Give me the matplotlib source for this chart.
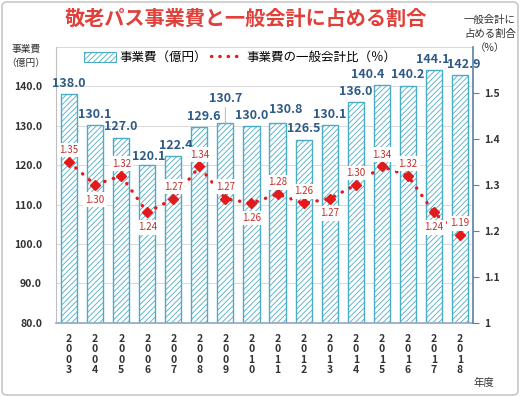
import matplotlib
matplotlib.use("Agg")
import matplotlib.pyplot as plt
from matplotlib.patches import Patch, FancyBboxPatch
from matplotlib.lines import Line2D

plt.rcParams['font.family'] = ['Noto Sans CJK JP', 'DejaVu Sans']
plt.rcParams['hatch.color'] = '#4BACC6'
plt.rcParams['hatch.linewidth'] = 0.6

years = ['2003', '2004', '2005', '2006', '2007', '2008', '2009', '2010',
         '2011', '2012', '2013', '2014', '2015', '2016', '2017', '2018']
cost = [138.0, 130.1, 127.0, 120.1, 122.4, 129.6, 130.7, 130.0,
        130.8, 126.5, 130.1, 136.0, 140.4, 140.2, 144.1, 142.9]
ratio = [1.35, 1.30, 1.32, 1.24, 1.27, 1.34, 1.27, 1.26,
         1.28, 1.26, 1.27, 1.30, 1.34, 1.32, 1.24, 1.19]
ratio_pos = ['a', 'b', 'a', 'b', 'a', 'a', 'a', 'b',
             'a', 'a', 'b', 'a', 'a', 'a', 'b', 'a']
left_ticks = [80.0, 90.0, 100.0, 110.0, 120.0, 130.0, 140.0]
right_ticks = [1.0, 1.1, 1.2, 1.3, 1.4, 1.5]
right_tick_labels = ['1', '1.1', '1.2', '1.3', '1.4', '1.5']

# label nudges (points) as placed in the reference
bar_label_dy = [0, 0, 0, -2, 0, 0, 10, 0, 2, 0, 0, 0, 0, 0, 0, 0]
bar_label_dx = [0, 0, 0, 1, 2, 3, 0, 0, 6, 0, 0, 0, -10, 0, -1, 3]

fig = plt.figure(figsize=(5.2, 3.97), dpi=100)
fig.patches.append(FancyBboxPatch((0.004, 0.005), 0.992, 0.99,
                                  boxstyle='round,pad=0,rounding_size=0.01',
                                  transform=fig.transFigure, fill=False,
                                  edgecolor='#C8C8C8', linewidth=1.2))

ax = fig.add_axes([0.1077, 0.187, 0.8019, 0.6946])
x = list(range(len(years)))
bar_color = '#4BACC6'
ax.bar(x, cost, width=0.62, bottom=0, color='white', edgecolor=bar_color,
       hatch='//////', linewidth=1.0, zorder=2)
ax.set_ylim(80, 150)
ax.set_xlim(-0.5, len(years) - 0.5)
ax.set_yticks(left_ticks)
ax.set_yticklabels([f'{v:.1f}' for v in left_ticks], fontsize=7.5,
                   fontweight='bold', color='#333333')
ax.yaxis.grid(True, color='#D9D9D9', linewidth=0.7, zorder=0)
ax.axhline(150, color='#D9D9D9', linewidth=0.7, zorder=0)
ax.set_axisbelow(True)
ax.tick_params(axis='y', length=0, pad=10)
ax.set_xticks(x)
ax.set_xticklabels(['\n'.join(y) for y in years], fontsize=7.5,
                   fontweight='bold', color='#333333', linespacing=1.05)
ax.tick_params(axis='x', length=0, pad=8)
for s in ['top', 'right']:
    ax.spines[s].set_visible(False)
ax.spines['left'].set_color('#BFBFBF')
ax.spines['bottom'].set_color('#8EA9C1')
ax.spines['bottom'].set_linewidth(1.2)

for xi, v, dx, dy in zip(x, cost, bar_label_dx, bar_label_dy):
    kw = {}
    if dy > 5:
        kw['arrowprops'] = dict(arrowstyle='-', color='#BFBFBF', linewidth=0.8,
                                shrinkA=0, shrinkB=0)
    ax.annotate(f'{v:.1f}', (xi, v), xytext=(dx, 3 + dy), textcoords='offset points',
                ha='center', va='bottom', fontsize=9, fontweight='bold',
                color='#2E5A88', zorder=5, **kw)

ax2 = ax.twinx()
ax2.set_ylim(1.0, 1.6)
ax2.set_yticks(right_ticks)
ax2.set_yticklabels(right_tick_labels, fontsize=7.5, fontweight='bold', color='#333333')
ax2.tick_params(axis='y', length=4, color='#5B7FA6', pad=4)
for s in ['top', 'left', 'bottom']:
    ax2.spines[s].set_visible(False)
ax2.spines['right'].set_color('#5B7FA6')
ax2.spines['right'].set_linewidth(1.2)

ax2.plot(x, ratio, color='#E31A1C', linestyle=(0, (0.1, 2.6)), linewidth=2.4,
         dash_capstyle='round', zorder=3)
ax2.plot(x, ratio, linestyle='none', marker='D', markersize=5.5,
         color='#E31A1C', zorder=4)
for xi, v, p in zip(x, ratio, ratio_pos):
    dy = 5 if p == 'a' else -7
    ax2.annotate(f'{v:.2f}', (xi, v), xytext=(0, dy), textcoords='offset points',
                 ha='center', va='bottom' if p == 'a' else 'top',
                 fontsize=7, color='#C0302B', zorder=6,
                 bbox=dict(boxstyle='square,pad=0.25', fc='white', ec='none'))

handles = [Patch(facecolor='white', edgecolor=bar_color, hatch='//////', linewidth=0.8),
           Line2D([0], [0], color='#E31A1C', linestyle=(0, (0.1, 2.4)), linewidth=2.4,
                  dash_capstyle='round')]
fig.legend(handles, ['事業費（億円）', '事業費の一般会計比（％）'],
           loc='center', bbox_to_anchor=(0.462, 0.855), ncol=2, frameon=False,
           fontsize=9, handlelength=2.6, handleheight=0.9,
           columnspacing=0.4, handletextpad=0.2)

fig.text(0.472, 0.955, '敬老パス事業費と一般会計に占める割合', ha='center', va='center',
         fontsize=14.5, fontweight='bold', color='#E0403A')
fig.text(0.05, 0.859, '事業費\n（億円）', ha='center', va='center', fontsize=7,
         color='#333333', linespacing=1.45)
fig.text(0.942, 0.915, '一般会計に\n占める割合\n（%）', ha='center', va='center',
         fontsize=7.5, color='#333333', linespacing=1.5)
fig.text(0.93, 0.035, '年度', ha='center', va='center', fontsize=7.5,
         color='#333333')

fig.savefig('out.png', dpi=100)
